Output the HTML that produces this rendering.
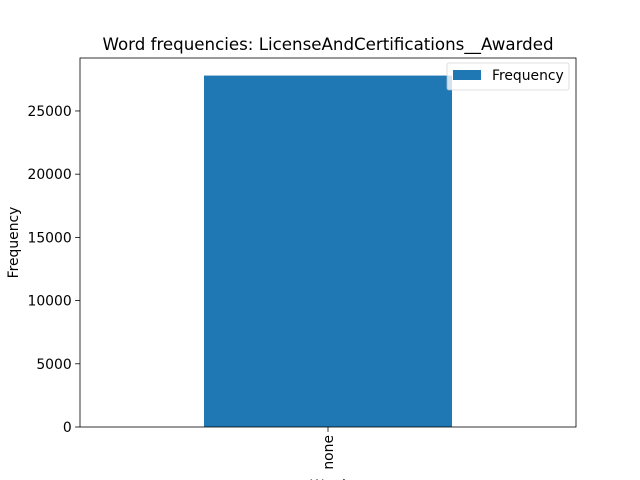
<!DOCTYPE html>
<html><head><meta charset="utf-8"><style>
body{margin:0;background:#fff;}
svg{display:block;font-family:"DejaVu Sans","Liberation Sans",sans-serif;}
</style></head><body>
<svg id="chart" width="640" height="480" viewBox="0 0 640 480" xmlns="http://www.w3.org/2000/svg">
<rect width="640" height="480" fill="#fff"/>
<text x="328" y="50" font-size="16.67" text-anchor="middle" fill="#000">Word frequencies: LicenseAndCertifications__Awarded</text>
<g id="bars"></g>
<g id="yticks"></g>
<g id="xticks"></g>
<rect x="80" y="58" width="496" height="369" fill="none" stroke="#000" stroke-width="0.8"/>
<text transform="translate(18,242.5) rotate(-90)" font-size="13.9" text-anchor="middle">Frequency</text>
<text x="328" y="490" font-size="13.9" text-anchor="middle">Word</text>
<g>
<rect x="447" y="63" width="122" height="27" rx="2" fill="#fff" stroke="#ccc" stroke-width="0.8" opacity="0.8"/>
<rect x="453" y="70" width="28" height="10" fill="#1f77b4"/>
<text x="492" y="80" font-size="13.9">Frequency</text>
</g>
</svg>
<script>
const categories = ["none"];
const values = [27800];
const yTicks = [0, 5000, 10000, 15000, 20000, 25000];
const L=80,R=576,T=58,B=427;
const yMax = 29190;
function y(v){return B-(v/yMax)*(B-T);}
function xc(i){const w=(R-L)/categories.length;return L+w*(i+0.5);}
const ns="http://www.w3.org/2000/svg";
const bars=document.getElementById('bars'),yt=document.getElementById('yticks'),xt=document.getElementById('xticks');
const bw=(R-L)/categories.length*0.5;
categories.forEach((c,i)=>{
  const r=document.createElementNS(ns,'rect');
  
  
  r.setAttribute('x',xc(i)-bw/2);r.setAttribute('width',bw);
  r.setAttribute('y',y(values[i]));r.setAttribute('height',B-y(values[i]));
  r.setAttribute('fill','#1f77b4');bars.appendChild(r);
  const l=document.createElementNS(ns,'line');
  
  
  l.setAttribute('x1',xc(i));l.setAttribute('x2',xc(i));l.setAttribute('y1',B);l.setAttribute('y2',B+4.9);l.setAttribute('stroke','#000');l.setAttribute('stroke-width','0.8');xt.appendChild(l);
  const t=document.createElementNS(ns,'text');
  
  
  t.setAttribute('transform','translate('+(xc(i)+5)+','+(B+8)+') rotate(-90)');
  t.setAttribute('font-size','13.9');t.setAttribute('text-anchor','end');t.textContent=c;xt.appendChild(t);
});
yTicks.forEach(v=>{
  const l=document.createElementNS(ns,'line');
  
  
  l.setAttribute('x1',L-4.9);l.setAttribute('x2',L);l.setAttribute('y1',y(v));l.setAttribute('y2',y(v));l.setAttribute('stroke','#000');l.setAttribute('stroke-width','0.8');yt.appendChild(l);
  const t=document.createElementNS(ns,'text');
  
  
  t.setAttribute('x',L-8.3);t.setAttribute('y',y(v)+5);t.setAttribute('font-size','13.9');t.setAttribute('text-anchor','end');t.textContent=v;yt.appendChild(t);
});
</script>
</body></html>
